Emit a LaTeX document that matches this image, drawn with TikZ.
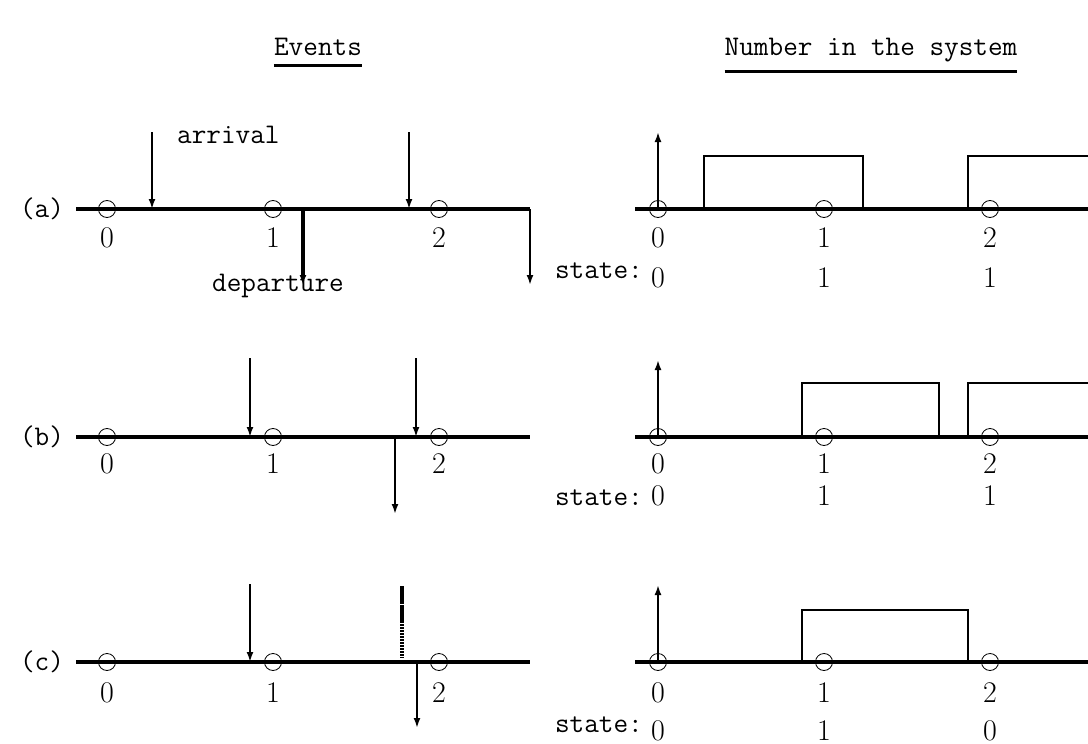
\documentclass[tikz,border=0pt]{standalone}
\usetikzlibrary{arrows.meta}
\begin{document}
\begin{tikzpicture}[x=1pt,y=-1pt,
  axisline/.style={line width=3.2pt},
  evarrow/.style={line width=2.4pt,-{Latex[length=10pt,width=7pt]}},
  ticknode/.style={circle,draw,line width=0.8pt,minimum size=17pt,inner sep=0pt},
  numtxt/.style={font=\fontsize{30}{36}\selectfont\rmfamily,inner sep=0pt,anchor=base},
  tttxt/.style={font=\fontsize{28.4}{34}\selectfont\ttfamily,inner sep=0pt},
  pulseline/.style={line width=2.8pt},
  uline/.style={line width=2.8pt},
]
\useasboundingbox (0,0) rectangle (1088,744);

% titles
\node[tttxt,anchor=base] (tev) at (318,56) {Events};
\node[tttxt,anchor=base] (tnum) at (871,56) {Number in the system};
\draw[uline] ([yshift=-9pt]tev.south west) -- ([yshift=-9pt]tev.south east);
\draw[uline] ([yshift=-9pt]tnum.south west) -- ([yshift=-9pt]tnum.south east);

% common parts of the three rows
\foreach \r/\y/\db/\sb in {a/209/247/278, b/437/473/505, c/662/702/732} {
  \node[tttxt] (lab\r) at (42,\y) {(\r)};
  \coordinate (ls\r) at (76,\y);
  \coordinate (le\r) at (530,\y);
  \draw[axisline] (ls\r) -- (le\r);
  \coordinate (rs\r) at (635,\y);
  \coordinate (re\r) at (1088,\y);
  \draw[axisline] (rs\r) -- (re\r);
  \foreach \i/\x in {0/107,1/273,2/439} {
    \node[ticknode] (lt\r\i) at (\x,\y) {};
    \node[numtxt] (ln\r\i) at (\x,\db) {\i};
  }
  \foreach \i/\x in {0/658,1/824,2/990} {
    \node[ticknode] (rt\r\i) at (\x,\y) {};
    \node[numtxt] (rn\r\i) at (\x,\db) {\i};
  }
  \node[tttxt,anchor=base east] (st\r) at (643,\sb) {state:};
  \coordinate (up\r) at (658,\y-77);
  \draw[evarrow] (rt\r0.center) -- (up\r);
}

% state values
\node[numtxt] (sva0) at (658,287) {0};
\node[numtxt] (sva1) at (824,287) {1};
\node[numtxt] (sva2) at (990,287) {1};
\node[numtxt] (svb0) at (658,505) {0};
\node[numtxt] (svb1) at (824,505) {1};
\node[numtxt] (svb2) at (990,505) {1};
\node[numtxt] (svc0) at (658,740) {0};
\node[numtxt] (svc1) at (824,740) {1};
\node[numtxt] (svc2) at (990,740) {0};

% ---- row (a), events
\coordinate (aA1t) at (152,132); \coordinate (aA1) at (152,209);
\coordinate (aA2t) at (409,132); \coordinate (aA2) at (409,209);
\coordinate (aD1) at (303,209);  \coordinate (aD1b) at (303,285);
\coordinate (aD2b) at (530,285);
\draw[evarrow] (aA1t) -- (aA1);
\draw[evarrow] (aA2t) -- (aA2);
\draw[evarrow,line width=3.6pt] (aD1) -- (aD1b);
\draw[evarrow] (lea) -- (aD2b);
\node[tttxt,anchor=base west] (arr) at (177,143) {arrival};
\node[tttxt,anchor=base west] (dep) at (212,291) {departure};

% ---- row (b), events
\coordinate (bA1t) at (250,358); \coordinate (bA1) at (250,437);
\coordinate (bA2t) at (416,358); \coordinate (bA2) at (416,437);
\coordinate (bD1) at (395,437);  \coordinate (bD1b) at (395,514);
\draw[evarrow] (bA1t) -- (bA1);
\draw[evarrow] (bA2t) -- (bA2);
\draw[evarrow] (bD1) -- (bD1b);

% ---- row (c), events
\coordinate (cA1t) at (250,584); \coordinate (cA1) at (250,662);
\coordinate (cXt) at (402,586); \coordinate (cXm) at (402,601); \coordinate (cXb) at (402,658);
\coordinate (cD1) at (417,662);  \coordinate (cD1b) at (417,728);
\draw[evarrow] (cA1t) -- (cA1);
\draw[line width=3.6pt] (cXt) -- (cXm);
\draw[line width=3.6pt,dash pattern=on 3pt off 1pt on 18pt off 1pt on 2pt off 1pt on 2pt off 1pt on 2pt off 1pt on 2pt off 1pt on 2pt off 1pt on 2pt off 1pt on 2pt off 1pt on 2pt off 1pt on 2pt off 1pt on 2pt off 1pt on 2pt off 1pt on 2pt off 1pt on 30pt off 1pt] (cXm) -- (cXb);
\draw[evarrow] (cD1) -- (cD1b);

% ---- pulses (number in the system)
\coordinate (pa1) at (704,209); \coordinate (pa1u) at (704,156);
\coordinate (pa2u) at (863,156); \coordinate (pa2) at (863,209);
\coordinate (pa3) at (968,209); \coordinate (pa3u) at (968,156);
\coordinate (pa4u) at (1088,156);
\draw[pulseline] (pa1) -- (pa1u) -- (pa2u) -- (pa2);
\draw[pulseline] (pa3) -- (pa3u) -- (pa4u);

\coordinate (pb1) at (802,437); \coordinate (pb1u) at (802,383);
\coordinate (pb2u) at (939,383); \coordinate (pb2) at (939,437);
\coordinate (pb3) at (968,437); \coordinate (pb3u) at (968,383);
\coordinate (pb4u) at (1088,383);
\draw[pulseline] (pb1) -- (pb1u) -- (pb2u) -- (pb2);
\draw[pulseline] (pb3) -- (pb3u) -- (pb4u);

\coordinate (pc1) at (802,662); \coordinate (pc1u) at (802,610);
\coordinate (pc2u) at (968,610); \coordinate (pc2) at (968,662);
\draw[pulseline] (pc1) -- (pc1u) -- (pc2u) -- (pc2);
\end{tikzpicture}
\end{document}
